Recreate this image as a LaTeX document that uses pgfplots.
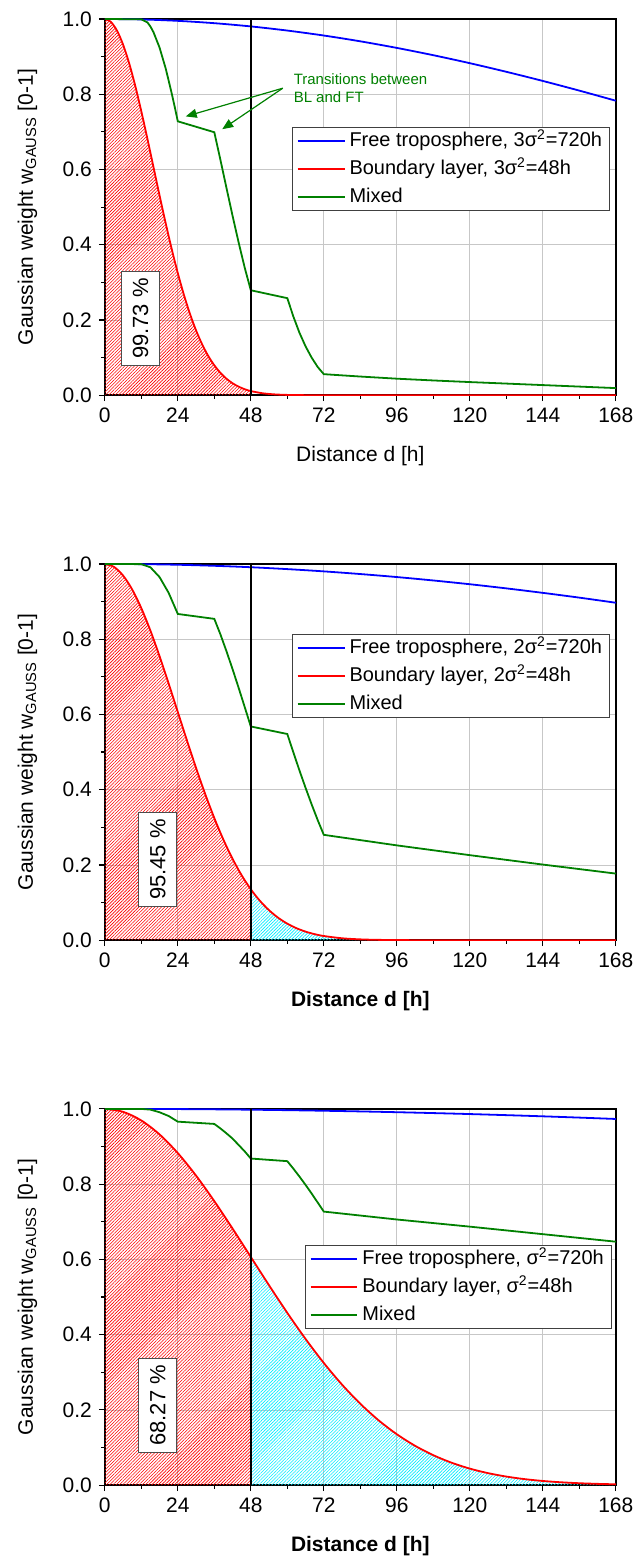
\documentclass[border=0pt]{standalone}
\usepackage{fontspec}
\setmainfont{Liberation Sans}
\usepackage{pgfplots}
\pgfplotsset{compat=1.18}
\usetikzlibrary{patterns.meta,arrows.meta}
\definecolor{ftblue}{RGB}{0,0,255}
\definecolor{blred}{RGB}{255,0,0}
\definecolor{mixgreen}{RGB}{0,128,0}
\definecolor{tailcyan}{RGB}{0,235,255}

\tikzset{
  pctbox/.style={rotate=90, draw=black!70, fill=white, line width=0.5pt,
    inner xsep=3.5pt, inner ysep=5.5pt, font=\fontsize{11}{12}\selectfont},
}
\pgfplotsset{
  gausspanel/.style={
    scale only axis, width=256pt, height=188.5pt,
    xmin=0, xmax=168, ymin=0, ymax=1,
    xtick={0,24,48,72,96,120,144,168},
    ytick={0,0.2,0.4,0.6,0.8,1},
    minor x tick num=1, minor y tick num=1,
    tick align=outside, tick pos=left,
    major tick length=3pt, minor tick length=1.8pt,
    every tick/.style={black, line width=0.6pt},
    axis line style={line width=0.8pt},
    grid=major, major grid style={line width=0.35pt, black!22},
    ticklabel style={font=\fontsize{10.5}{12}\selectfont},
    /pgf/number format/assume math mode=true,
    yticklabel style={/pgf/number format/.cd, fixed, fixed zerofill, precision=1},
    xlabel style={at={(axis description cs:0.5,0)}, anchor=base, yshift=-33pt,
      font=\fontsize{10.5}{12}\selectfont},
    ylabel style={at={(axis description cs:-0.1406,0.5)}, anchor=base,
      font=\fontsize{10.5}{12}\selectfont},
    ylabel={Gaussian weight w\textsubscript{GAUSS} [0-1]},
    legend cell align=left,
    legend image code/.code={\draw[#1, line width=0.9pt] (0pt,0pt) -- (23.5pt,0pt);},
    legend style={anchor=north east, draw=black!75, line width=0.5pt,
      font=\fontsize{10}{12}\selectfont, inner xsep=2pt, inner ysep=1.5pt,
      row sep=3.6pt, nodes={inner xsep=2pt, inner ysep=0pt, text height=8pt, text depth=2.5pt}},
  },
  hatchred/.style={draw=none, forget plot, pattern={Lines[angle=45,distance=1.15pt,line width=0.3pt]}, pattern color=blred},
  hatchcyan/.style={draw=none, forget plot, pattern={Lines[angle=45,distance=1.15pt,line width=0.3pt]}, pattern color=tailcyan},
}

\begin{document}
\begin{tikzpicture}
\path (0,0) rectangle (319pt,-781pt);

% ---------------- panel 1: 3 sigma ----------------
\begin{axis}[gausspanel, at={(52.5pt,-198pt)}, anchor=south west,
  xlabel={Distance d [h]},
  legend style={at={(0.9896,0.7127)}}]
% hatched area under the boundary-layer curve, 0-48 h
\addplot[hatchred] coordinates {
  (0,1) (2,0.9922) (4,0.9692) (6,0.9321) (8,0.8825) (10,0.8226) (12,0.7548)
  (14,0.6819) (16,0.6065) (18,0.5311) (20,0.4578) (22,0.3886) (24,0.3247)
  (26,0.2671) (28,0.2163) (30,0.1724) (32,0.1353) (34,0.1046) (36,0.0796)
  (38,0.0596) (40,0.0439) (42,0.0319) (44,0.0228) (46,0.0160) (48,0.0111)} \closedcycle;
\addplot[ftblue, line width=0.9pt, smooth] coordinates {
  (0,1) (12,0.99875) (24,0.9950) (36,0.9888) (48,0.9802) (60,0.9692) (72,0.9560)
  (84,0.9406) (96,0.9231) (108,0.9037) (120,0.8825) (132,0.8596) (144,0.8353)
  (156,0.8096) (168,0.7827)};
\addlegendentry{Free troposphere, 3σ\textsuperscript{2}=720h}
\addplot[blred, line width=0.9pt, smooth] coordinates {
  (0,1) (2,0.9922) (4,0.9692) (6,0.9321) (8,0.8825) (10,0.8226) (12,0.7548)
  (14,0.6819) (16,0.6065) (18,0.5311) (20,0.4578) (22,0.3886) (24,0.3247)
  (26,0.2671) (28,0.2163) (30,0.1724) (32,0.1353) (34,0.1046) (36,0.0796)
  (38,0.0596) (40,0.0439) (42,0.0319) (44,0.0228) (46,0.0160) (48,0.0111)
  (52,0.0051) (56,0.0022) (60,0.0009) (66,0.0002) (72,0) (168,0)};
\addlegendentry{Boundary layer, 3σ\textsuperscript{2}=48h}
\addplot[mixgreen, line width=0.9pt] coordinates {
  (0,1) (12,0.999) (14,0.991) (15,0.980) (16,0.965) (18,0.924) (20,0.869)
  (21,0.836) (22,0.802) (23,0.766) (24,0.728) (36,0.699) (38,0.626) (40,0.551)
  (42,0.477) (44,0.406) (46,0.339) (48,0.279) (60,0.258) (62,0.209) (64,0.166)
  (66,0.130) (68,0.100) (70,0.075) (72,0.056) (84,0.0497) (96,0.044)
  (108,0.0393) (120,0.035) (132,0.031) (144,0.027) (156,0.023) (168,0.019)};
\addlegendentry{Mixed}
\addplot[black, line width=0.8pt, forget plot] coordinates {(48,0) (48,1)};
\node[pctbox] at (axis cs:11.8,0.204) {99.73 \%};
\node[anchor=north west, inner sep=0pt, align=left, text=mixgreen,
  font=\fontsize{7.5}{9}\selectfont] at (axis cs:62,0.856) {Transitions between\\BL and FT};
\draw[mixgreen, line width=0.6pt, -{Triangle[length=5.5pt,width=4.5pt]}]
  (axis cs:58.5,0.816) -- (axis cs:26.6,0.741);
\draw[mixgreen, line width=0.6pt, -{Triangle[length=5.5pt,width=4.5pt]}]
  (axis cs:58.5,0.816) -- (axis cs:38.6,0.707);
\end{axis}

% ---------------- panel 2: 2 sigma ----------------
\begin{axis}[gausspanel, at={(52.5pt,-471pt)}, anchor=south west,
  xlabel={\textbf{Distance d [h]}},
  legend style={at={(0.9896,0.814)}}]
\addplot[hatchred] coordinates {
  (0,1) (3,0.9922) (6,0.9692) (9,0.9321) (12,0.8825) (15,0.8226) (18,0.7548)
  (21,0.6819) (24,0.6065) (27,0.5311) (30,0.4578) (33,0.3886) (36,0.3247)
  (39,0.2671) (42,0.2163) (45,0.1724) (48,0.1353)} \closedcycle;
\addplot[hatchcyan] coordinates {
  (48,0.1353) (51,0.1046) (54,0.0796) (57,0.0596) (60,0.0439) (63,0.0319)
  (66,0.0228) (69,0.0160) (72,0.0111) (78,0.0051) (84,0.0022) (90,0.0009)
  (99,0.0002) (108,0) (168,0)} \closedcycle;
\addplot[ftblue, line width=0.9pt, smooth] coordinates {
  (0,1) (12,0.99944) (24,0.99778) (36,0.9950) (48,0.9912) (60,0.9862) (72,0.9802)
  (84,0.9731) (96,0.9651) (108,0.9560) (120,0.9460) (132,0.9350) (144,0.9231)
  (156,0.9104) (168,0.8968)};
\addlegendentry{Free troposphere, 2σ\textsuperscript{2}=720h}
\addplot[blred, line width=0.9pt, smooth] coordinates {
  (0,1) (3,0.9922) (6,0.9692) (9,0.9321) (12,0.8825) (15,0.8226) (18,0.7548)
  (21,0.6819) (24,0.6065) (27,0.5311) (30,0.4578) (33,0.3886) (36,0.3247)
  (39,0.2671) (42,0.2163) (45,0.1724) (48,0.1353) (51,0.1046) (54,0.0796)
  (57,0.0596) (60,0.0439) (63,0.0319) (66,0.0228) (69,0.0160) (72,0.0111)
  (78,0.0051) (84,0.0022) (90,0.0009) (99,0.0002) (108,0) (168,0)};
\addlegendentry{Boundary layer, 2σ\textsuperscript{2}=48h}
\addplot[mixgreen, line width=0.9pt] coordinates {
  (0,1) (12,0.9994) (15,0.991) (18,0.965) (21,0.923) (24,0.867) (36,0.854)
  (38,0.813) (40,0.768) (42,0.7205) (44,0.6707) (46,0.6196) (48,0.568)
  (60,0.548) (62,0.499) (64,0.451) (66,0.405) (68,0.361) (70,0.319) (72,0.280)
  (96,0.252) (120,0.226) (144,0.201) (168,0.177)};
\addlegendentry{Mixed}
\addplot[black, line width=0.8pt, forget plot] coordinates {(48,0) (48,1)};
\node[pctbox] at (axis cs:17.4,0.214) {95.45 \%};
\end{axis}

% ---------------- panel 3: 1 sigma ----------------
\begin{axis}[gausspanel, at={(52.5pt,-744pt)}, anchor=south west,
  xlabel={\textbf{Distance d [h]}},
  legend style={at={(0.993,0.638)}}]
\addplot[hatchred] coordinates {
  (0,1) (3,0.9980) (6,0.9922) (9,0.9826) (12,0.9692) (15,0.9524) (18,0.9321)
  (21,0.9088) (24,0.8825) (27,0.8536) (30,0.8226) (33,0.7895) (36,0.7548)
  (39,0.7188) (42,0.6819) (45,0.6444) (48,0.6065)} \closedcycle;
\addplot[hatchcyan] coordinates {
  (48,0.6065) (51,0.5686) (54,0.5311) (57,0.4941) (60,0.4578) (63,0.4227)
  (66,0.3886) (69,0.3559) (72,0.3247) (75,0.2950) (78,0.2671) (81,0.2408)
  (84,0.2163) (87,0.1936) (90,0.1724) (93,0.1531) (96,0.1353) (99,0.1192)
  (102,0.1046) (105,0.0914) (108,0.0796) (111,0.0690) (114,0.0596)
  (117,0.0513) (120,0.0439) (126,0.0319) (132,0.0228) (138,0.0160)
  (144,0.0111) (150,0.0076) (156,0.0051) (162,0.0034) (168,0.0022)} \closedcycle;
\addplot[ftblue, line width=0.9pt, smooth] coordinates {
  (0,1) (12,0.99986) (24,0.99944) (36,0.99875) (48,0.99778) (60,0.99653)
  (72,0.99501) (84,0.99322) (96,0.99115) (108,0.98881) (120,0.98621)
  (132,0.98333) (144,0.98020) (156,0.97680) (168,0.97315)};
\addlegendentry{Free troposphere, σ\textsuperscript{2}=720h}
\addplot[blred, line width=0.9pt, smooth] coordinates {
  (0,1) (6,0.9922) (12,0.9692) (18,0.9321) (24,0.8825) (30,0.8226) (36,0.7548)
  (42,0.6819) (48,0.6065) (54,0.5311) (60,0.4578) (66,0.3886) (72,0.3247)
  (78,0.2671) (84,0.2163) (90,0.1724) (96,0.1353) (102,0.1046) (108,0.0796)
  (114,0.0596) (120,0.0439) (126,0.0319) (132,0.0228) (138,0.0160)
  (144,0.0111) (150,0.0076) (156,0.0051) (162,0.0034) (168,0.0022)};
\addlegendentry{Boundary layer, σ\textsuperscript{2}=48h}
\addplot[mixgreen, line width=0.9pt] coordinates {
  (0,1) (12,0.9999) (15,0.998) (18,0.991) (21,0.981) (24,0.966) (36,0.960)
  (38,0.948) (40,0.935) (42,0.921) (44,0.904) (46,0.887) (48,0.868)
  (60,0.861) (62,0.841) (64,0.820) (66,0.798) (68,0.775) (70,0.751) (72,0.727)
  (96,0.706) (120,0.687) (144,0.667) (168,0.647)};
\addlegendentry{Mixed}
\addplot[black, line width=0.8pt, forget plot] coordinates {(48,0) (48,1)};
\node[pctbox] at (axis cs:17.4,0.212) {68.27 \%};
\end{axis}
\end{tikzpicture}
\end{document}
